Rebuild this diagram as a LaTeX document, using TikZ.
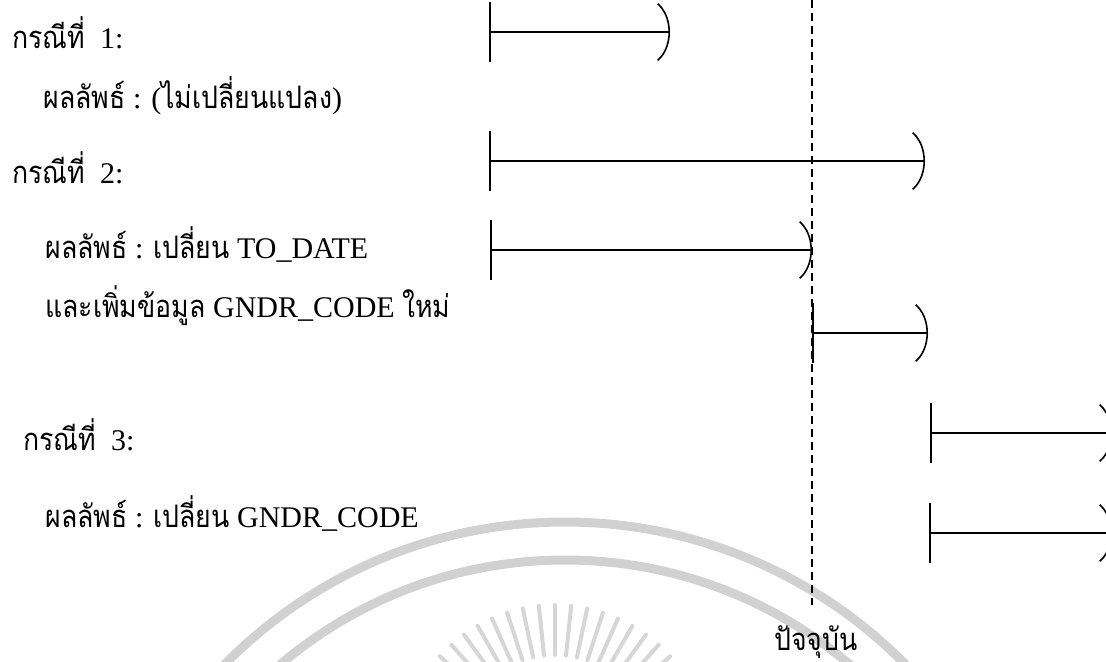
\documentclass[tikz,border=0pt]{standalone}
\usepackage{fontspec}
\setmainfont{Liberation Serif}
\newfontfamily\thaifont[Script=Thai, FakeStretch=0.86]{Loma}
\usetikzlibrary{arrows.meta, positioning}
\newcommand{\thai}[1]{{\thaifont\fontsize{15.5}{18}\selectfont #1}}
\tikzset{
    txt/.style={anchor=base west, inner sep=0pt, font=\fontsize{15}{18}\selectfont},
    span/.style={arrows={Bar[width=30pt]-Parenthesis[width=33.5pt, length=12pt]}, line width=0.8pt},
    nowline/.style={dash pattern=on 4pt off 2.5pt, line width=0.6pt},
    wmark/.style={draw=black!18, line width=4.5pt},
    wray/.style={draw=black!16, line width=2pt, line cap=round},
}

\begin{document}
\begin{tikzpicture}[x=0.5pt, y=-0.5pt]
  \useasboundingbox (0,0) rectangle (1106,661);
  \clip (0,0) rectangle (1106,661);

  % faint emblem behind the picture
  \draw[wmark] (565,1000) circle (478);
  \draw[wmark] (565,1000) circle (440);
  \foreach \a in {-156,-150,...,-24}
    \draw[wray] (555,760) ++(\a:105) -- ++(\a:50);

  % case texts
  \node[txt] (case1) at (12,48)  {\thai{กรณีที่}\ \ 1:};
  \node[txt] (res1)  at (43,108) {\thai{ผลลัพธ์} : (\thai{ไม่เปลี่ยนแปลง})};
  \node[txt] (case2) at (12,183) {\thai{กรณีที่}\ \ 2:};
  \node[txt] (res2)  at (45,258) {\thai{ผลลัพธ์} : \thai{เปลี่ยน} TO\_DATE};
  \node[txt] (res2b) at (45,317) {\thai{และเพิ่มข้อมูล} GNDR\_CODE \thai{ใหม่}};
  \node[txt] (case3) at (23,450) {\thai{กรณีที่}\ \ 3:};
  \node[txt] (res3)  at (45,527) {\thai{ผลลัพธ์} : \thai{เปลี่ยน} GNDR\_CODE};

  % the present
  \coordinate (nowtop) at (812,0);
  \coordinate (nowbot) at (812,605);
  \draw[nowline] (nowtop) -- (nowbot);
  \node[txt, anchor=base] (now) at (816,650) {\thai{ปัจจุบัน}};

  % valid time spans
  \coordinate (s1) at (489,32);  \coordinate (e1) at (670,32);
  \coordinate (s2) at (489,161); \coordinate (e2) at (925,161);
  \coordinate (s3) at (490,250); \coordinate (e3) at (812,250);
  \coordinate (s4) at (812,333); \coordinate (e4) at (928,333);
  \coordinate (s5) at (930,433); \coordinate (e5) at (1112,433);
  \coordinate (s6) at (929,533); \coordinate (e6) at (1112,533);
  \foreach \i in {1,...,6}
    \draw[span] (s\i) -- (e\i);

\end{tikzpicture}
\end{document}
